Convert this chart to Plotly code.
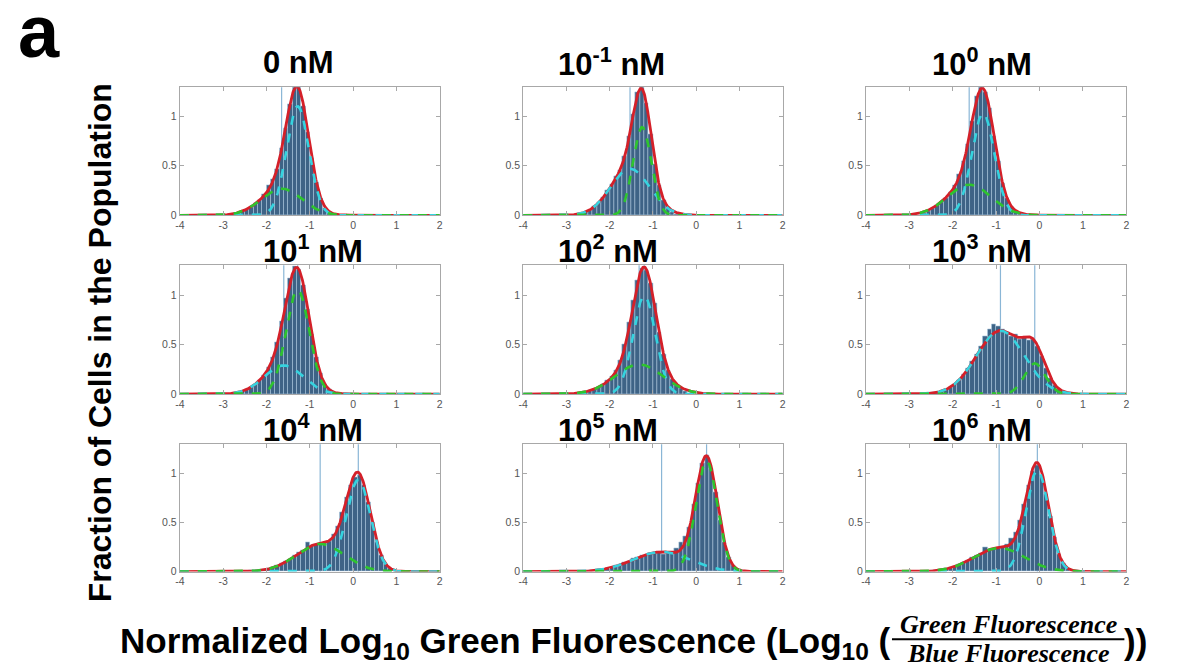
import numpy as np
import plotly.graph_objects as go

W, H = 1184, 670

# ---------------- data ----------------
panel_titles = ["0 nM", "10<sup>-1</sup> nM", "10<sup>0</sup> nM",
                "10<sup>1</sup> nM", "10<sup>2</sup> nM", "10<sup>3</sup> nM",
                "10<sup>4</sup> nM", "10<sup>5</sup> nM", "10<sup>6</sup> nM"]

x_ticks = [-4, -3, -2, -1, 0, 1, 2]
y_ticks = [0, 0.5, 1]
y_tick_text = ["0", "0.5", "1"]

bin_width = 0.1
bin_start = [-2.7, -2.7, -2.7, -2.7, -2.8, -2.7, -2.6, -2.6, -2.6]

hist_0nM = [0.02, 0.04, 0.06, 0.08, 0.12, 0.15, 0.21, 0.30, 0.36, 0.47, 0.68, 0.88,
            1.12, 1.29, 1.29, 1.10, 0.84, 0.58, 0.33, 0.17, 0.07, 0.03]
hist_1em1 = [0.02, 0.03, 0.05, 0.09, 0.13, 0.18, 0.25, 0.31, 0.39, 0.46, 0.60, 0.80,
             1.02, 1.24, 1.29, 1.13, 0.82, 0.52, 0.30, 0.15, 0.07, 0.03, 0.01]
hist_1e0 = [0.02, 0.04, 0.07, 0.10, 0.13, 0.17, 0.23, 0.30, 0.42, 0.55, 0.72, 0.95,
            1.20, 1.29, 1.24, 1.08, 0.80, 0.55, 0.32, 0.17, 0.08, 0.03, 0.01]
hist_1e1 = [0.02, 0.03, 0.05, 0.07, 0.10, 0.14, 0.19, 0.27, 0.37, 0.52, 0.73, 0.97,
            1.17, 1.29, 1.26, 1.10, 0.86, 0.60, 0.37, 0.21, 0.10, 0.05, 0.02]
hist_1e2 = [0.01, 0.02, 0.03, 0.04, 0.05, 0.07, 0.10, 0.14, 0.18, 0.24, 0.34, 0.50,
            0.72, 0.95, 1.15, 1.27, 1.25, 1.12, 0.92, 0.62, 0.40, 0.24, 0.15, 0.09,
            0.06, 0.03]
hist_1e3 = [0.00, 0.02, 0.02, 0.02, 0.03, 0.05, 0.07, 0.10, 0.14, 0.20, 0.26, 0.33,
            0.40, 0.48, 0.58, 0.65, 0.70, 0.68, 0.65, 0.62, 0.58, 0.60, 0.55, 0.57,
            0.54, 0.55, 0.48, 0.38, 0.26, 0.16, 0.09, 0.05, 0.02, 0.01]
hist_1e4 = [0.00, 0.00, 0.01, 0.01, 0.01, 0.02, 0.03, 0.04, 0.06, 0.08, 0.10, 0.12,
            0.16, 0.20, 0.22, 0.30, 0.27, 0.28, 0.28, 0.29, 0.31, 0.38, 0.46, 0.60,
            0.75, 0.88, 0.96, 0.98, 0.88, 0.70, 0.50, 0.30, 0.17, 0.07, 0.03]
hist_1e5 = [0.00, 0.01, 0.01, 0.02, 0.02, 0.03, 0.04, 0.06, 0.07, 0.09, 0.10, 0.13,
            0.14, 0.16, 0.17, 0.19, 0.20, 0.20, 0.18, 0.19, 0.20, 0.24, 0.30, 0.36,
            0.45, 0.68, 0.90, 1.10, 1.18, 1.05, 0.80, 0.52, 0.30, 0.14, 0.06, 0.02]
hist_1e6 = [0.00, 0.01, 0.01, 0.02, 0.03, 0.04, 0.05, 0.07, 0.09, 0.11, 0.14, 0.17,
            0.19, 0.25, 0.22, 0.23, 0.24, 0.25, 0.28, 0.34, 0.40, 0.52, 0.68, 0.88,
            1.02, 1.08, 0.98, 0.78, 0.56, 0.35, 0.18, 0.08, 0.03, 0.01, 0.00]

histograms = [hist_0nM, hist_1em1, hist_1e0, hist_1e1, hist_1e2,
              hist_1e3, hist_1e4, hist_1e5, hist_1e6]

# fitted Gaussian components (mean, sigma, peak height)
cyan_mu = [-1.28, -1.53, -1.30, -1.60, -1.20, -0.90, 0.12, -0.80, -0.05]
cyan_sd = [0.26, 0.45, 0.26, 0.45, 0.26, 0.55, 0.28, 0.65, 0.26]
cyan_amp = [1.10, 0.47, 1.03, 0.29, 0.99, 0.64, 0.93, 0.20, 1.03]
green_mu = [-1.65, -1.25, -1.62, -1.28, -1.32, -0.11, -0.76, 0.24, -0.93]
green_sd = [0.47, 0.21, 0.50, 0.27, 0.55, 0.24, 0.55, 0.25, 0.58]
green_amp = [0.27, 0.89, 0.31, 1.05, 0.30, 0.31, 0.28, 1.12, 0.24]

# ---------------- layout geometry (pixels) ----------------
col_left = [176, 521.7, 866.7]
col_right = [437.7, 783, 1129]
row_top = [88, 267.7, 448.3]
row_bot = [217.3, 397.7, 576.7]
y_top = [1.293, 1.30, 1.292]
title_left = [258, 555, 931]
title_mid = [63, 251, 432]

BAR_FILL = "#3e6386"
BAR_EDGE = "#a7c4dc"
RED = "#d42029"
CYAN = "#35d3df"
GREEN = "#2ec42e"
VLINE = "#8ab6d6"
FRAME = "#a8a8a8"
FONT = "Liberation Sans, Arial, sans-serif"
TICKFONT = dict(family=FONT, size=10.5, color="#555555")

fig = go.Figure()
xg = np.linspace(-4, 2, 601)

shapes = []
annotations = []
layout_axes = {}

for k in range(9):
    r, c = divmod(k, 3)
    n = k + 1
    xa = "x" if n == 1 else f"x{n}"
    ya = "y" if n == 1 else f"y{n}"

    h = histograms[k]
    centers = [bin_start[k] + (i + 0.5) * bin_width for i in range(len(h))]
    fig.add_trace(go.Bar(x=centers, y=h, width=bin_width, xaxis=xa, yaxis=ya,
                         marker=dict(color=BAR_FILL, line=dict(color=BAR_EDGE, width=0.6)),
                         showlegend=False, hoverinfo="skip"))

    cy = cyan_amp[k] * np.exp(-(xg - cyan_mu[k]) ** 2 / (2 * cyan_sd[k] ** 2))
    gy = green_amp[k] * np.exp(-(xg - green_mu[k]) ** 2 / (2 * green_sd[k] ** 2))
    fig.add_trace(go.Scatter(x=xg, y=cy + gy, mode="lines", xaxis=xa, yaxis=ya,
                             line=dict(color=RED, width=2.8), showlegend=False,
                             hoverinfo="skip"))
    fig.add_trace(go.Scatter(x=xg, y=cy, mode="lines", xaxis=xa, yaxis=ya,
                             line=dict(color=CYAN, width=2.6, dash="dash"),
                             showlegend=False, hoverinfo="skip"))
    fig.add_trace(go.Scatter(x=xg, y=gy, mode="lines", xaxis=xa, yaxis=ya,
                             line=dict(color=GREEN, width=2.6, dash="dash"),
                             showlegend=False, hoverinfo="skip"))

    for m in (cyan_mu[k], green_mu[k]):
        shapes.append(dict(type="line", xref=xa, yref=f"{ya} domain", x0=m, x1=m,
                           y0=0, y1=1, line=dict(color=VLINE, width=1.2), layer="below"))

    axkey_x = "xaxis" if n == 1 else f"xaxis{n}"
    axkey_y = "yaxis" if n == 1 else f"yaxis{n}"
    layout_axes[axkey_x] = dict(
        domain=[col_left[c] / W, col_right[c] / W], anchor=ya, range=[-4, 2],
        tickvals=x_ticks, ticktext=[str(t) for t in x_ticks], ticks="inside",
        ticklen=4, tickcolor=FRAME, showline=True, linecolor=FRAME, linewidth=1,
        mirror="ticks", showgrid=False, zeroline=False, tickfont=TICKFONT,
        fixedrange=True)
    layout_axes[axkey_y] = dict(
        domain=[1 - row_bot[r] / H, 1 - row_top[r] / H], anchor=xa,
        range=[0, y_top[r]], tickvals=y_ticks, ticktext=y_tick_text, ticks="inside",
        ticklen=4, tickcolor=FRAME, showline=True, linecolor=FRAME, linewidth=1,
        mirror="ticks", showgrid=False, zeroline=False, tickfont=TICKFONT,
        fixedrange=True)

    annotations.append(dict(text=f"<b>{panel_titles[k]}</b>", xref="paper", yref="paper",
                            x=title_left[c] / W, y=1 - title_mid[r] / H,
                            xanchor="left", yanchor="middle", showarrow=False,
                            font=dict(family=FONT, size=31, color="black")))

# panel label
annotations.append(dict(text="<b>a</b>", xref="paper", yref="paper", x=34 / W,
                        y=1 - 32 / H, xanchor="center", yanchor="middle",
                        showarrow=False, font=dict(family=FONT, size=74, color="black")))
# y label
annotations.append(dict(text="<b>Fraction of Cells in the Population</b>", xref="paper",
                        yref="paper", x=96 / W, y=1 - 346 / H, xanchor="center",
                        yanchor="middle", textangle=-90, showarrow=False,
                        font=dict(family=FONT, size=32, color="black")))
# x label
annotations.append(dict(text="<b>Normalized Log<sub>10</sub> Green Fluorescence (Log<sub>10</sub> (</b>",
                        xref="paper", yref="paper", x=114 / W, y=1 - 649 / H,
                        xanchor="left", yanchor="middle", showarrow=False,
                        font=dict(family=FONT, size=35, color="black")))
annotations.append(dict(text="<b><i>Green Fluorescence</i></b>", xref="paper", yref="paper",
                        x=1010 / W, y=1 - 630 / H, xanchor="center", yanchor="middle",
                        showarrow=False,
                        font=dict(family="Liberation Serif, serif", size=26, color="black")))
annotations.append(dict(text="<b><i>Blue Fluorescence</i></b>", xref="paper", yref="paper",
                        x=1010 / W, y=1 - 659 / H, xanchor="center", yanchor="middle",
                        showarrow=False,
                        font=dict(family="Liberation Serif, serif", size=26, color="black")))
annotations.append(dict(text="<b>))</b>", xref="paper", yref="paper", x=1125 / W,
                        y=1 - 647 / H, xanchor="left", yanchor="middle", showarrow=False,
                        font=dict(family=FONT, size=35, color="black")))
shapes.append(dict(type="line", xref="paper", yref="paper", x0=893 / W, x1=1127 / W,
                   y0=1 - 645 / H, y1=1 - 645 / H, line=dict(color="black", width=2)))

fig.update_layout(width=W, height=H, margin=dict(l=0, r=0, t=0, b=0), autosize=False,
                  paper_bgcolor="white", plot_bgcolor="white", bargap=0,
                  shapes=shapes, annotations=annotations, **layout_axes)

fig.write_html("out.html", config={"displayModeBar": False})
